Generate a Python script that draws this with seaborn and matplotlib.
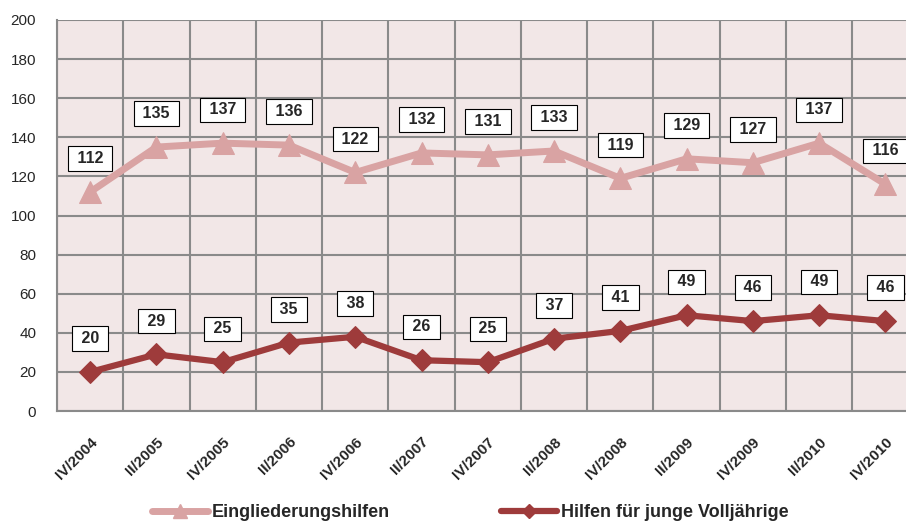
import numpy as np
import pandas as pd
import matplotlib
matplotlib.use('Agg')
import matplotlib.pyplot as plt
from matplotlib.lines import Line2D
import seaborn as sns

# Daten
quartale = ['IV/2004', 'II/2005', 'IV/2005', 'II/2006', 'IV/2006', 'II/2007', 'IV/2007',
            'II/2008', 'IV/2008', 'II/2009', 'IV/2009', 'II/2010', 'IV/2010']
eingliederung = [112, 135, 137, 136, 122, 132, 131, 133, 119, 129, 127, 137, 116]
volljaehrige = [20, 29, 25, 35, 38, 26, 25, 37, 41, 49, 46, 49, 46]
serien = ['Eingliederungshilfen', 'Hilfen für junge Volljährige']

HELL = '#D9A3A3'
DUNKEL = '#9E3B3B'
GRID = '#8A8A8A'
BG = '#F2E7E7'

sns.set_style('white')
plt.rcParams['font.family'] = ['Liberation Sans', 'DejaVu Sans']

df = pd.DataFrame({
    'pos': np.tile(np.arange(len(quartale)), 2),
    'wert': eingliederung + volljaehrige,
    'serie': np.repeat(serien, len(quartale)),
})

fig = plt.figure(figsize=(9.06, 5.25), dpi=100)
ax = fig.add_axes([0.0629, 0.217, 0.951, 0.745])
ax.set_facecolor(BG)

sns.lineplot(data=df[df.serie == serien[0]], x='pos', y='wert', ax=ax, color=HELL,
             linewidth=5, marker='^', markersize=16, markeredgecolor=HELL,
             legend=False, zorder=3)
sns.lineplot(data=df[df.serie == serien[1]], x='pos', y='wert', ax=ax, color=DUNKEL,
             linewidth=4.5, marker='D', markersize=11.5, markeredgecolor=DUNKEL,
             legend=False, zorder=4)

# Datenbeschriftungen
for werte in (eingliederung, volljaehrige):
    for i, v in enumerate(werte):
        ax.annotate(f' {v} ', (i, v), xytext=(0, 24), textcoords='offset points',
                    ha='center', va='center', fontsize=11.5, fontweight='bold',
                    bbox=dict(boxstyle='square,pad=0.3', fc='white', ec='black', lw=0.8),
                    zorder=5)

ax.set_xlim(-0.5, len(quartale) - 0.5)
ax.set_ylim(0, 200)
ax.set_yticks(np.arange(0, 201, 20))
ax.set_xticks(np.arange(len(quartale)))
ax.set_xticklabels(quartale, rotation=45, ha='right', rotation_mode='anchor',
                   fontsize=11, fontweight='bold')
ax.set_xticks(np.arange(len(quartale) + 1) - 0.5, minor=True)
ax.tick_params(axis='x', which='major', length=0, pad=17)
ax.tick_params(axis='x', which='minor', length=3, color=GRID, width=1.5)
ax.tick_params(axis='y', length=3, color=GRID, width=1.5, labelsize=11, pad=12)

ax.grid(True, axis='y', which='major', color=GRID, linewidth=1.5, zorder=0)
ax.grid(True, axis='x', which='minor', color=GRID, linewidth=1.5, zorder=0)
ax.set_axisbelow(True)
for s in ['top', 'right']:
    ax.spines[s].set_visible(False)
for s in ['left', 'bottom']:
    ax.spines[s].set_color(GRID)
    ax.spines[s].set_linewidth(1.5)
ax.set_xlabel('')
ax.set_ylabel('')

handles = [Line2D([], [], color=HELL, lw=5, marker='^', markersize=10),
           Line2D([], [], color=DUNKEL, lw=4.5, marker='D', markersize=7)]
fig.legend(handles, serien, loc='center', bbox_to_anchor=(0.519, 0.023), ncol=2,
           frameon=False, handlelength=3.1, handletextpad=0.2, columnspacing=6.2,
           prop={'weight': 'bold', 'size': 13})

fig.savefig('out.png', dpi=100)
